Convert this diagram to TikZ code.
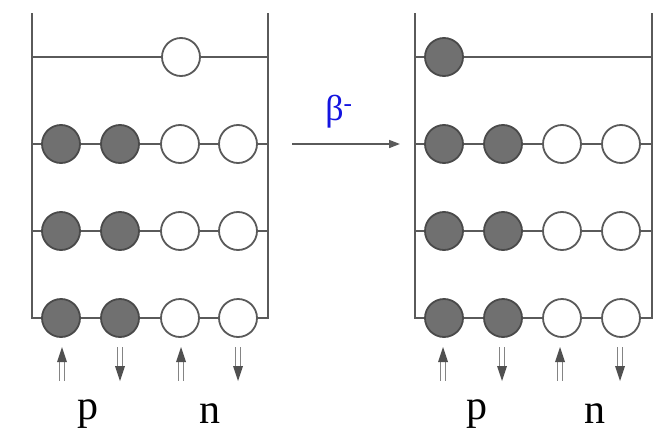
\documentclass[tikz,border=0pt]{standalone}
\usepackage{fontspec}
\setmainfont{Liberation Serif}
\usetikzlibrary{arrows.meta}
\definecolor{wallgray}{HTML}{5A5A5A}
\definecolor{fillgray}{HTML}{707070}
\definecolor{rimgray}{HTML}{4A4A4A}
\definecolor{arrgray}{HTML}{505050}
\definecolor{betablue}{HTML}{1414E0}
\begin{document}
\begin{tikzpicture}[x=1pt,y=-1pt,
  wall/.style={draw=wallgray,line width=2.2pt},
  level/.style={draw=wallgray,line width=2.2pt},
  proton/.style={circle,draw=rimgray,fill=fillgray,line width=1.8pt,minimum size=38pt,inner sep=0pt},
  neutron/.style={circle,draw=wallgray,fill=white,line width=1.8pt,minimum size=38pt,inner sep=0pt},
  shaft/.style={draw=arrgray!70,line width=1.1pt},
  head/.style={fill=arrgray,draw=none},
  lab/.style={font=\fontsize{42}{44}\selectfont,inner sep=0pt},
  react/.style={draw=wallgray,line width=1.6pt,-{Triangle[length=11pt,width=8pt]}}]
\useasboundingbox (0,0) rectangle (654,442);
% spin arrows: up and down
\newcommand{\spinup}[1]{%
  \draw[shaft] ([xshift=-2.2pt,yshift=-14pt]#1) -- ([xshift=-2.2pt,yshift=-34pt]#1);
  \draw[shaft] ([xshift=2.2pt,yshift=-14pt]#1) -- ([xshift=2.2pt,yshift=-34pt]#1);
  \path[head] (#1) -- ([xshift=-5pt,yshift=-15pt]#1) -- ([xshift=5pt,yshift=-15pt]#1) -- cycle;}
\newcommand{\spindown}[1]{%
  \draw[shaft] ([xshift=-2.2pt,yshift=14pt]#1) -- ([xshift=-2.2pt,yshift=34pt]#1);
  \draw[shaft] ([xshift=2.2pt,yshift=14pt]#1) -- ([xshift=2.2pt,yshift=34pt]#1);
  \path[head] (#1) -- ([xshift=-5pt,yshift=15pt]#1) -- ([xshift=5pt,yshift=15pt]#1) -- cycle;}
% ---------- left panel ----------
\coordinate (LT) at (32,13);
\coordinate (LB) at (32,318);
\coordinate (RT) at (268,13);
\coordinate (RB) at (268,318);
\foreach \r/\y in {1/57,2/144,3/231,4/318}{
  \coordinate (Lw\r) at (32,\y);
  \coordinate (Rw\r) at (268,\y);
}
\node[neutron] (a0) at (181,57) {};
\foreach \r/\y in {2/144,3/231,4/318}{
  \node[proton] (a\r1) at (61,\y) {};
  \node[proton] (a\r2) at (120,\y) {};
  \node[neutron] (a\r3) at (180,\y) {};
  \node[neutron] (a\r4) at (238,\y) {};
}
\draw[wall] (LT) -- (LB) -- (a41);
\draw[wall] (RT) -- (RB) -- (a44);
\draw[level] (Lw1) -- (a0) -- (Rw1);
\foreach \r in {2,3}{
  \draw[level] (Lw\r) -- (a\r1) -- (a\r2) -- (a\r3) -- (a\r4) -- (Rw\r);
}
\draw[level] (a41) -- (a42) -- (a43) -- (a44);
% spin arrows left (tip coordinates)
\coordinate (Lu1) at (62,347);
\coordinate (Ld2) at (120,381);
\coordinate (Lu3) at (181,347);
\coordinate (Ld4) at (238,381);
\spinup{Lu1}
\spindown{Ld2}
\spinup{Lu3}
\spindown{Ld4}
\node[lab] (p1) at (88,414) {p};
\node[lab] (n1) at (210,414) {n};
% ---------- reaction arrow ----------
\coordinate (ra) at (292,144);
\coordinate (rb) at (400,144);
\draw[react] (ra) -- (rb);
\node[text=betablue,font=\fontsize{36}{38}\selectfont,inner sep=0pt] (beta) at (339,112) {β\textsuperscript{-}};
% ---------- right panel ----------
\coordinate (LT2) at (415,13);
\coordinate (LB2) at (415,318);
\coordinate (RT2) at (652,13);
\coordinate (RB2) at (652,318);
\foreach \r/\y in {1/57,2/144,3/231,4/318}{
  \coordinate (Lv\r) at (415,\y);
  \coordinate (Rv\r) at (652,\y);
}
\node[proton] (b0) at (444,57) {};
\foreach \r/\y in {2/144,3/231,4/318}{
  \node[proton] (b\r1) at (444,\y) {};
  \node[proton] (b\r2) at (503,\y) {};
  \node[neutron] (b\r3) at (562,\y) {};
  \node[neutron] (b\r4) at (621,\y) {};
}
\draw[wall] (LT2) -- (LB2) -- (b41);
\draw[wall] (RT2) -- (RB2) -- (b44);
\draw[level] (Lv1) -- (b0) -- (Rv1);
\foreach \r in {2,3}{
  \draw[level] (Lv\r) -- (b\r1) -- (b\r2) -- (b\r3) -- (b\r4) -- (Rv\r);
}
\draw[level] (b41) -- (b42) -- (b43) -- (b44);
\coordinate (Ru1) at (443,347);
\coordinate (Rd2) at (502,381);
\coordinate (Ru3) at (560,347);
\coordinate (Rd4) at (620,381);
\spinup{Ru1}
\spindown{Rd2}
\spinup{Ru3}
\spindown{Rd4}
\node[lab] (p2) at (477,414) {p};
\node[lab] (n2) at (595,414) {n};
\end{tikzpicture}
\end{document}
